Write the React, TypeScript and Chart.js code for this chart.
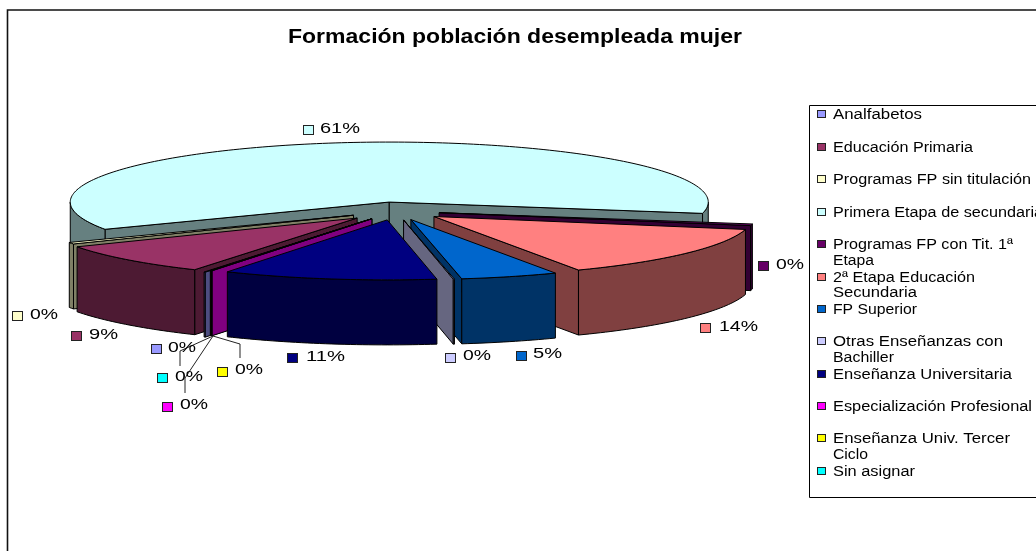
import React, { useEffect, useRef } from "react";
import { Chart, registerables } from "chart.js";

Chart.register(...registerables);

const categories = [
  "Analfabetos",
  "Educación Primaria",
  "Programas FP sin titulación",
  "Primera Etapa de secundaria",
  "Programas FP con Tit. 1ª Etapa",
  "2ª Etapa Educación Secundaria",
  "FP Superior",
  "Otras Enseñanzas con Bachiller",
  "Enseñanza Universitaria",
  "Especialización Profesional",
  "Enseñanza Univ. Tercer Ciclo",
  "Sin asignar",
];
const shares = [0.06, 8.56, 0.45, 60.6, 0.44, 14.08, 4.94, 0.06, 10.86, 0.03, 0.03, 0.03];
const colors = [
  "#9999FF", "#993366", "#FFFFCC", "#CCFFFF", "#660066", "#FF8080",
  "#0066CC", "#CCCCFF", "#000080", "#FF00FF", "#FFFF00", "#00FFFF",
];
// How far each slice is pulled out of the pie.
const explode = [58, 54, 48, 48, 44, 48, 48, 48, 48, 48, 48, 48];

// Back-to-front painting order of the exploded slices.
const paintOrder = [3, 4, 2, 5, 1, 0, 11, 10, 9, 6, 7, 8];

const FONT = '"Liberation Sans", Arial, sans-serif';
const PIE = { cx: 396, cy: 211, rx: 319, ry: 60, depth: 65 };

// Label placement per category: key x, key y, text x, baseline, text width.
const labelBoxes = [
  [151, 344, 168, 352, 28], [71, 331, 89, 339, 29], [12, 311, 30, 319, 28],
  [303, 125, 320, 133, 40], [758, 261, 776, 269, 28], [700, 323, 719, 331, 39],
  [516, 351, 533, 358, 29], [445, 353, 463, 360, 28], [287, 353, 306, 361, 39],
  [162, 402, 180, 409, 28], [217, 367, 235, 374, 28], [157, 373, 175, 381, 28],
];
const leaders = [
  [[213, 336], [180, 351], [180, 366]],
  [[213, 336], [185, 378], [185, 393]],
  [[213, 336], [240, 344], [240, 358]],
];

// Legend rows: lines of text as they wrap, centre y of each, fitted widths.
const legendRows = [
  { lines: ["Analfabetos"], ys: [114], ws: [89] },
  { lines: ["Educación Primaria"], ys: [147], ws: [140] },
  { lines: ["Programas FP sin titulación"], ys: [179], ws: [198] },
  { lines: ["Primera Etapa de secundaria"], ys: [212], ws: [210] },
  { lines: ["Programas FP con Tit. 1ª", "Etapa"], ys: [244, 260], ws: [180, 41] },
  { lines: ["2ª Etapa Educación", "Secundaria"], ys: [277, 292], ws: [142, 84] },
  { lines: ["FP Superior"], ys: [309], ws: [84] },
  { lines: ["Otras Enseñanzas con", "Bachiller"], ys: [341, 357], ws: [170, 61] },
  { lines: ["Enseñanza Universitaria"], ys: [374], ws: [179] },
  { lines: ["Especialización Profesional"], ys: [406], ws: [199] },
  { lines: ["Enseñanza Univ. Tercer", "Ciclo"], ys: [438, 454], ws: [177, 35] },
  { lines: ["Sin asignar"], ys: [471], ws: [82] },
];

const TITLE = "Formación población desempleada mujer";

function darken(hex: string) {
  const n = parseInt(hex.slice(1), 16);
  const c = (v: number) => Math.round(v / 2);
  return `rgb(${c((n >> 16) & 255)},${c((n >> 8) & 255)},${c(n & 255)})`;
}

function fitText(ctx: CanvasRenderingContext2D, text: string, x: number, y: number, width: number, font: string) {
  ctx.save();
  ctx.font = font;
  ctx.textAlign = "left";
  ctx.textBaseline = "alphabetic";
  ctx.fillStyle = "#000";
  const natural = ctx.measureText(text).width;
  ctx.translate(x, y);
  ctx.scale(width / natural, 1);
  ctx.fillText(text, 0, 0);
  ctx.restore();
}

function key(ctx: CanvasRenderingContext2D, x: number, y: number, s: number, color: string) {
  ctx.fillStyle = color;
  ctx.fillRect(x + 0.5, y + 0.5, s, s - 1);
  ctx.strokeStyle = "#222";
  ctx.lineWidth = 1;
  ctx.strokeRect(x + 0.5, y + 0.5, s, s - 1);
}

const pie3d = {
  id: "pie3d",
  beforeDatasetsDraw(chart: any) {
    const ctx: CanvasRenderingContext2D = chart.ctx;
    const meta = chart.getDatasetMeta(0);
    ctx.save();
    ctx.lineWidth = 1;
    ctx.strokeStyle = "#000";
    ctx.lineJoin = "round";

    const shape = (pts: number[][], fill: string) => {
      ctx.beginPath();
      pts.forEach((p, i) => (i ? ctx.lineTo(p[0], p[1]) : ctx.moveTo(p[0], p[1])));
      ctx.closePath();
      ctx.fillStyle = fill;
      ctx.fill();
      ctx.stroke();
    };

    paintOrder.forEach((i) => {
      const arc = meta.data[i];
      const { startAngle: a0, endAngle: a1 } = arc.getProps(["startAngle", "endAngle"], true);
      const mid = (a0 + a1) / 2;
      const off = arc.options.offset;
      const ox = PIE.cx + off * Math.cos(mid);
      const oy = PIE.cy + off * Math.sin(mid) * (PIE.ry / PIE.rx);
      const at = (a: number, dz = 0) => [ox + PIE.rx * Math.cos(a), oy + PIE.ry * Math.sin(a) + dz];
      const apex = [ox, oy];
      const apexLow = [ox, oy + PIE.depth];
      const top = colors[i];
      const wall = darken(top);

      if (Math.cos(a0) < 0) shape([apex, at(a0), at(a0, PIE.depth), apexLow], wall);
      if (Math.cos(a1) > 0) shape([apex, at(a1), at(a1, PIE.depth), apexLow], wall);

      // Outer wall on each front-facing part of the rim.
      const TAU = Math.PI * 2;
      for (let k = -1; k <= 1; k++) {
        const lo = Math.max(a0, k * TAU);
        const hi = Math.min(a1, k * TAU + Math.PI);
        if (hi <= lo) continue;
        const steps = Math.max(2, Math.ceil((hi - lo) / 0.02));
        const upper: number[][] = [];
        const lower: number[][] = [];
        for (let s = 0; s <= steps; s++) {
          const a = lo + ((hi - lo) * s) / steps;
          upper.push(at(a));
          lower.unshift(at(a, PIE.depth));
        }
        shape([...upper, ...lower], wall);
      }

      const steps = Math.max(2, Math.ceil((a1 - a0) / 0.02));
      const face: number[][] = [apex];
      for (let s = 0; s <= steps; s++) face.push(at(a0 + ((a1 - a0) * s) / steps));
      shape(face, top);
    });

    // Leader lines
    ctx.strokeStyle = "#222";
    leaders.forEach((line) => {
      ctx.beginPath();
      line.forEach((p, i) => (i ? ctx.lineTo(p[0], p[1]) : ctx.moveTo(p[0], p[1])));
      ctx.stroke();
    });
    ctx.restore();

    // Data labels
    const total = shares.reduce((a, b) => a + b, 0);
    labelBoxes.forEach((b, i) => {
      key(ctx, b[0], b[1], 10, colors[i]);
      fitText(ctx, `${Math.round((shares[i] / total) * 100)}%`, b[2], b[3], b[4], `14px ${FONT}`);
    });

    // Chart frame, open on the right and at the bottom as the picture is cropped
    ctx.save();
    ctx.strokeStyle = "#111";
    ctx.lineWidth = 1.6;
    ctx.beginPath();
    ctx.moveTo(7.5, 560);
    ctx.lineTo(7.5, 10);
    ctx.lineTo(1040, 10);
    ctx.stroke();
    ctx.lineWidth = 1;
    ctx.strokeStyle = "#000";
    ctx.beginPath();
    ctx.moveTo(1040, 105.5);
    ctx.lineTo(809.5, 105.5);
    ctx.lineTo(809.5, 497.5);
    ctx.lineTo(1040, 497.5);
    ctx.stroke();
    ctx.restore();

    legendRows.forEach((row, i) => {
      key(ctx, 817, row.ys[0] - 4, 8, colors[i]);
      row.lines.forEach((line, j) => {
        fitText(ctx, line, 833, row.ys[j] + 5, row.ws[j], `14px ${FONT}`);
      });
    });

    fitText(ctx, TITLE, 288, 43, 454, `bold 20px ${FONT}`);
    return false;
  },
};

export default function App() {
  const ref = useRef<HTMLCanvasElement>(null);
  useEffect(() => {
    const chart = new Chart(ref.current!, {
      type: "pie",
      data: {
        labels: categories,
        datasets: [{ data: shares, backgroundColor: colors, borderColor: "#000", borderWidth: 1, offset: explode }],
      },
      options: {
        responsive: false,
        animation: false,
        rotation: 210.4,
        plugins: { legend: { display: false }, tooltip: { enabled: false }, title: { display: false } },
      },
      plugins: [pie3d],
    } as any);
    return () => chart.destroy();
  }, []);
  return (
    <canvas
      ref={ref}
      width={1036}
      height={551}
      style={{ position: "absolute", left: 0, top: 0, display: "block", background: "#fff" }}
    />
  );
}
